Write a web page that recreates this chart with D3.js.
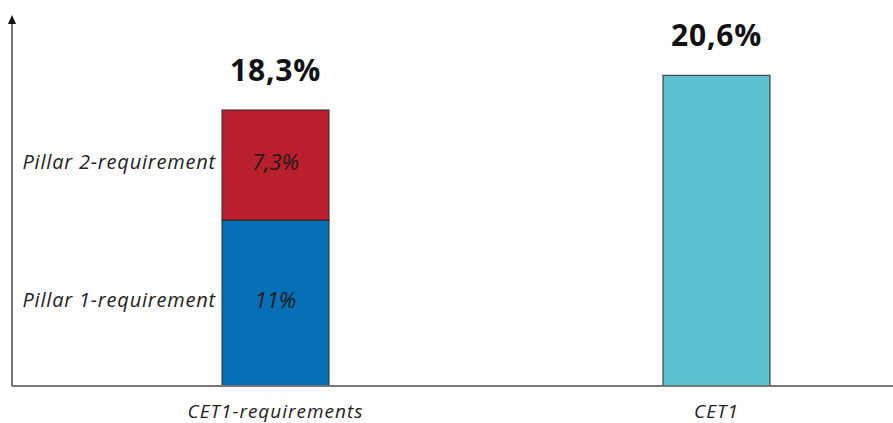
<!DOCTYPE html>
<html>
<head>
<meta charset="utf-8">
<script src="https://cdn.jsdelivr.net/npm/d3@7"></script>
<style>
  html, body { margin: 0; padding: 0; background: #fff; }
  svg { display: block; font-family: "Open Sans", sans-serif; }
</style>
</head>
<body>
<div id="chart"></div>
<script>
/*
 * Chart data.
 */
var categories = ['CET1-requirements', 'CET1'];
var pillarNames = ['Pillar 1-requirement', 'Pillar 2-requirement'];
var pillarValues = [11, 7.3];
var pillarLabels = ['11%', '7,3%'];
var totalValues = [18.3, 20.6];
var totalLabels = ['18,3%', '20,6%'];
var colors = ['#0670b7', '#b91f2d', '#5bc1ce'];

var width = 893, height = 423;
var baseY = 386, axisX = 12;

var svg = d3.select('#chart').append('svg')
    .attr('width', width)
    .attr('height', height);

/*
 * Scales.
 */
var x = d3.scalePoint()
    .domain(categories)
    .range([275.5, 716.5]);
var barWidth = 107;
var y = d3.scaleLinear()
    .domain([0, 24])
    .range([baseY, 24]);

/*
 * Stacked segments for the requirement bar.
 */
var stack = [];
var acc = 0;
pillarValues.forEach(function(v, i) {
    stack.push({ y0: acc, y1: acc + v, name: pillarNames[i], label: pillarLabels[i], color: colors[i] });
    acc += v;
});

var seg = svg.append('g').selectAll('g')
    .data(stack)
    .join('g');

seg.append('rect')
    .attr('x', x(categories[0]) - barWidth / 2)
    .attr('width', barWidth)
    .attr('y', d => y(d.y1))
    .attr('height', d => y(d.y0) - y(d.y1))
    .attr('fill', d => d.color)
    .attr('stroke', '#2a2a2a')
    .attr('stroke-width', 1);

seg.append('text')
    .attr('x', x(categories[0]))
    .attr('y', d => (y(d.y0) + y(d.y1)) / 2 - 3)
    .attr('dy', '0.35em')
    .attr('text-anchor', 'middle')
    .attr('font-size', 22)
    .attr('font-style', 'italic')
    .attr('fill', '#1a1a1a')
    .text(d => d.label);

seg.append('text')
    .attr('x', x(categories[0]) - barWidth / 2 - 6)
    .attr('y', d => (y(d.y0) + y(d.y1)) / 2 - 3)
    .attr('dy', '0.35em')
    .attr('text-anchor', 'end')
    .attr('font-size', 20)
    .attr('letter-spacing', 0.8)
    .attr('font-style', 'italic')
    .attr('fill', '#222')
    .text(d => d.name);

/*
 * CET1 bar.
 */
svg.append('rect')
    .attr('x', x(categories[1]) - barWidth / 2)
    .attr('width', barWidth)
    .attr('y', y(totalValues[1]))
    .attr('height', y(0) - y(totalValues[1]))
    .attr('fill', colors[2])
    .attr('stroke', '#2a2a2a')
    .attr('stroke-width', 1);

/*
 * Total labels above the bars.
 */
svg.append('g').selectAll('text')
    .data(categories)
    .join('text')
    .attr('x', d => x(d))
    .attr('y', (d, i) => y(totalValues[i]) - 29)
    .attr('text-anchor', 'middle')
    .attr('font-size', 30)
    .attr('letter-spacing', 0.8)
    .attr('font-weight', 'bold')
    .attr('fill', '#111')
    .text((d, i) => totalLabels[i]);

/*
 * Category labels.
 */
svg.append('g').selectAll('text')
    .data(categories)
    .join('text')
    .attr('x', d => x(d))
    .attr('y', 418)
    .attr('text-anchor', 'middle')
    .attr('font-size', 19)
    .attr('letter-spacing', 1)
    .attr('font-style', 'italic')
    .attr('fill', '#222')
    .text(d => d);

/*
 * Axes lines with arrow.
 */
svg.append('line')
    .attr('x1', axisX).attr('x2', width)
    .attr('y1', baseY).attr('y2', baseY)
    .attr('stroke', '#777').attr('stroke-width', 2);
svg.append('line')
    .attr('x1', axisX).attr('x2', axisX)
    .attr('y1', baseY).attr('y2', 22)
    .attr('stroke', '#777').attr('stroke-width', 2);
svg.append('path')
    .attr('d', d3.line()([[axisX - 4, 24], [axisX, 15], [axisX + 4, 24]]) + 'Z')
    .attr('fill', '#111');
</script>
</body>
</html>
